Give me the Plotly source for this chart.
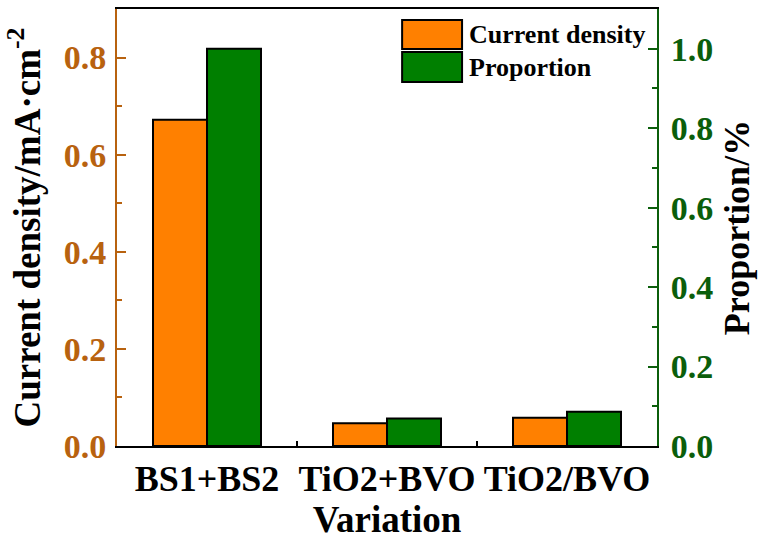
import plotly.graph_objects as go

# Data
variations = ["BS1+BS2", "TiO2+BVO", "TiO2/BVO"]
current_density = [0.672, 0.047, 0.058]   # mA·cm^-2
proportion = [1.0, 0.069, 0.086]          # fraction

ORANGE = "#FF8000"
GREEN = "#007F00"
LEFT_AX = "#B8620F"
RIGHT_AX = "#0B5E0B"
FONT = "Liberation Serif"

fig = go.Figure()
fig.add_trace(go.Bar(
    x=variations, y=current_density, name="Current density",
    marker=dict(color=ORANGE, line=dict(color="black", width=2)),
    offsetgroup="cd", yaxis="y", showlegend=False,
))
fig.add_trace(go.Bar(
    x=variations, y=proportion, name="Proportion",
    marker=dict(color=GREEN, line=dict(color="black", width=2)),
    offsetgroup="pr", yaxis="y2", showlegend=False,
))

# Legend drawn as large framed swatches with labels
legend_items = [("Current density", ORANGE, 0.9085, 0.975, 0.9416),
                ("Proportion", GREEN, 0.833, 0.9016, 0.867)]
for label, color, y0, y1, ym in legend_items:
    fig.add_shape(type="rect", xref="paper", yref="paper",
                  x0=0.528, x1=0.639, y0=y0, y1=y1,
                  fillcolor=color, line=dict(color="black", width=2))
    fig.add_annotation(xref="paper", yref="paper", x=0.648, y=ym,
                       text=f"<b>{label}</b>", showarrow=False,
                       xanchor="left", yanchor="middle",
                       font=dict(family=FONT, size=26, color="black"))

fig.update_layout(
    width=760, height=543,
    margin=dict(l=117, r=103, t=9, b=97),
    paper_bgcolor="white", plot_bgcolor="white",
    barmode="group", bargap=0.4, bargroupgap=0,
    font=dict(family=FONT, color="black"),
    xaxis=dict(
        type="category", automargin=False, tickangle=0,
        title=dict(text="<b>Variation</b>", font=dict(size=37), standoff=3),
        tickfont=dict(size=36),
        tickprefix="<b>", ticksuffix="</b>",
        showline=True, linecolor="black", linewidth=2, mirror=True,
        ticks="inside", tickson="boundaries", ticklen=5, tickcolor="black",
        tickwidth=1.5, showgrid=False,
    ),
    yaxis=dict(
        range=[0, 0.9], automargin=False,
        title=dict(text="<b>Current density/mA·cm<sup>-2</sup></b>",
                   font=dict(size=37), standoff=12),
        tickvals=[0, 0.2, 0.4, 0.6, 0.8],
        ticktext=["<b>0.0</b>", "<b>0.2</b>", "<b>0.4</b>", "<b>0.6</b>", "<b>0.8</b>"],
        tickfont=dict(size=34, color=LEFT_AX),
        showline=True, linecolor=LEFT_AX, linewidth=2,
        ticks="inside", ticklen=9, tickcolor=LEFT_AX, tickwidth=1.5,
        minor=dict(ticks="inside", ticklen=5, tickcolor=LEFT_AX, dtick=0.1, tick0=0),
        showgrid=False, zeroline=False, ticklabelstandoff=2,
    ),
    yaxis2=dict(
        range=[0, 1.1], overlaying="y", side="right", automargin=False,
        title=dict(text="<b>Proportion/%</b>", font=dict(size=36), standoff=12),
        tickvals=[0, 0.2, 0.4, 0.6, 0.8, 1.0],
        ticktext=["<b>0.0</b>", "<b>0.2</b>", "<b>0.4</b>", "<b>0.6</b>", "<b>0.8</b>", "<b>1.0</b>"],
        tickfont=dict(size=34, color=RIGHT_AX),
        showline=True, linecolor=RIGHT_AX, linewidth=2,
        ticks="inside", ticklen=9, tickcolor=RIGHT_AX, tickwidth=1.5,
        minor=dict(ticks="inside", ticklen=5, tickcolor=RIGHT_AX, dtick=0.1, tick0=0),
        showgrid=False, zeroline=False, ticklabelstandoff=5,
    ),
)

fig.write_html("out.html")
